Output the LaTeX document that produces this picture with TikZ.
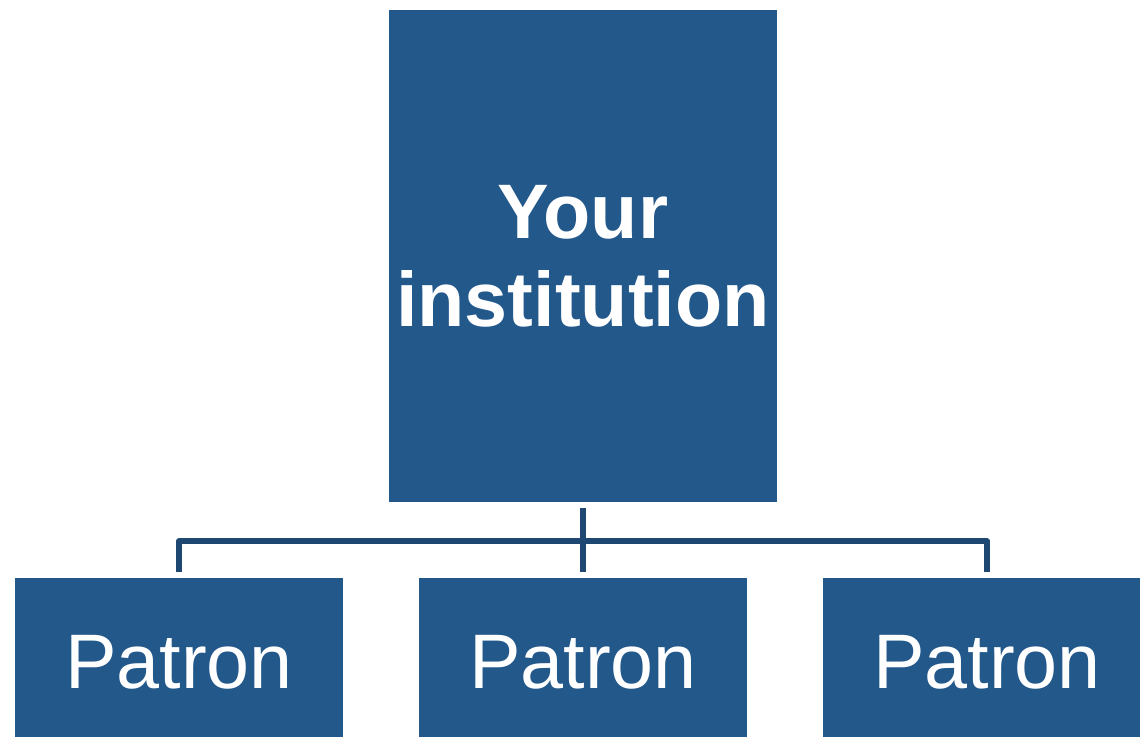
\documentclass[tikz,border=0pt]{standalone}
\usepackage{fontspec}
\setmainfont{Liberation Sans}
\definecolor{boxblue}{HTML}{23588B}
\definecolor{linkblue}{HTML}{1E4872}
\tikzset{
  topbox/.style={fill=boxblue, text=white, inner sep=0pt, align=center,
    minimum width=7.76cm, minimum height=9.84cm,
    font=\fontsize{44}{50}\selectfont\bfseries},
  patronbox/.style={fill=boxblue, text=white, inner sep=0pt,
    minimum width=6.56cm, minimum height=3.36cm,
    font=\fontsize{44}{50}\selectfont},
  link/.style={draw=linkblue, line width=2.9pt, line join=round}
}
\begin{document}
\begin{tikzpicture}[x=0.02cm, y=-0.02cm]
\useasboundingbox (0,0) rectangle (1140,737);
\clip (0,0) rectangle (1140,737);
\path node[topbox] (inst) at (583,256) {Your\\institution}
node[patronbox] (p1) at (179,662) {Patron}
node[patronbox] (p2) at (583,662) {Patron}
node[patronbox] (p3) at (987,662) {Patron}
;
\coordinate (bus) at (583,541);
\draw[link, shorten <=0.12cm] (inst.south) -- (bus);
\draw[link, shorten >=0.12cm] (bus) -| (p1.north);
\draw[link, shorten >=0.12cm] (bus) -- (p2.north);
\draw[link, shorten >=0.12cm] (bus) -| (p3.north);
\end{tikzpicture}
\end{document}
